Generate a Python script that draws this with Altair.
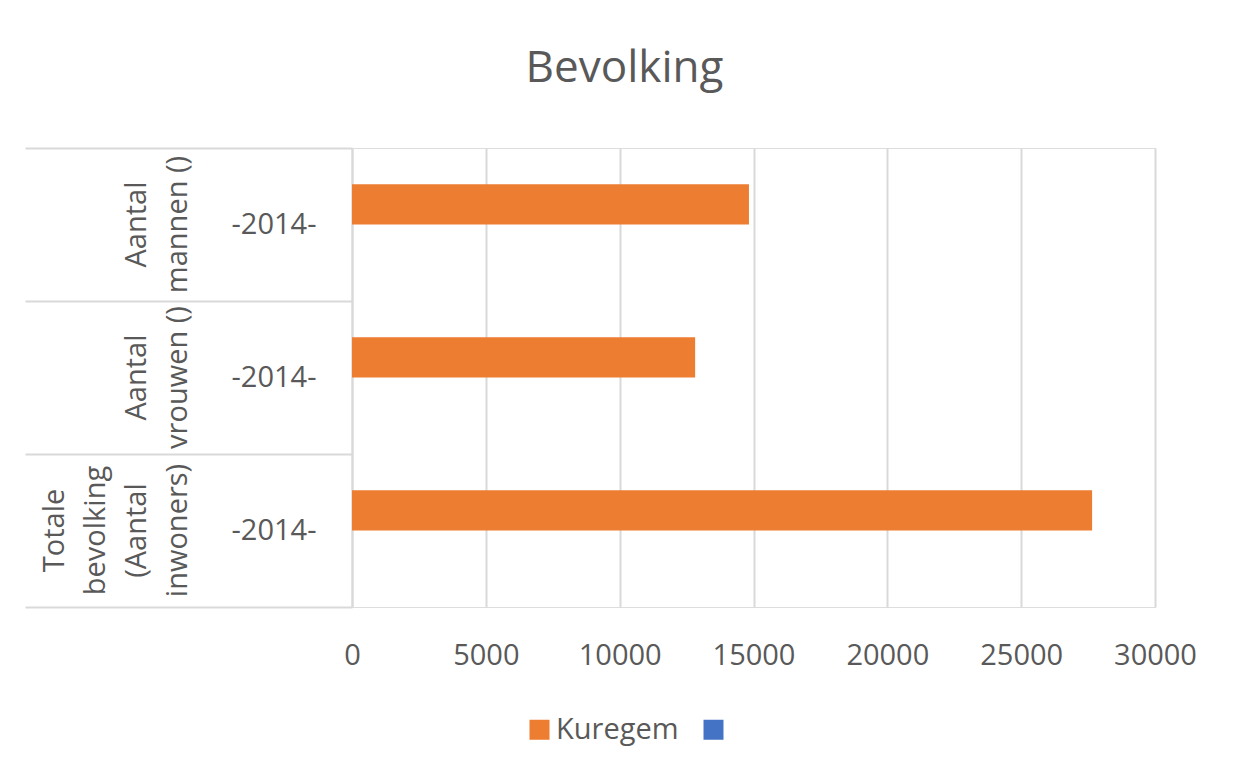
import altair as alt
import pandas as pd

# ---- data ----
categories = ["Aantal mannen ()", "Aantal vrouwen ()", "Totale bevolking (Aantal inwoners)"]
category_lines = [
    ["Aantal", "mannen  ()"],
    ["Aantal", "vrouwen ()"],
    ["Totale", "bevolking", "(Aantal", "inwoners)"],
]
years = ["-2014-", "-2014-", "-2014-"]
series = ["Kuregem", " "]
kuregem = [14830, 12820, 27650]
second_series = [None, None, None]
x_ticks = [0, 5000, 10000, 15000, 20000, 25000, 30000]

rows = []
for c, v in zip(categories, kuregem):
    rows.append({"cat": c, "series": series[0], "value": v})
for c, v in zip(categories, second_series):
    rows.append({"cat": c, "series": series[1], "value": v})
bars_df = pd.DataFrame(rows)

line_rows = []
for c, lines in zip(categories, category_lines):
    n = len(lines)
    for i, t in enumerate(lines):
        line_rows.append({"cat": c, "line": t, "pos": n - 1 - i})
lines_df = pd.DataFrame(line_rows)
years_df = pd.DataFrame({"cat": categories, "year": years})

# ---- style ----
FONT = "Open Sans"
TXT = "#595959"
GRID = "#d9d9d9"
ORANGE = "#ED7D31"
BLUE = "#4472C4"

y_enc = alt.Y(
    "cat:N",
    sort=categories,
    scale=alt.Scale(domain=categories, paddingInner=0, paddingOuter=0),
    axis=alt.Axis(
        labels=False, ticks=True, tickBand="extent", tickSize=327,
        tickColor=GRID, tickWidth=2, domain=True, domainColor=GRID,
        domainWidth=2, grid=False, title=None,
    ),
)

bars = alt.Chart(bars_df).mark_bar().encode(
    x=alt.X(
        "value:Q",
        scale=alt.Scale(domain=[0, 30000], nice=False),
        axis=alt.Axis(
            values=x_ticks, format="d", grid=True, gridColor=GRID, gridWidth=2,
            domain=False, ticks=False, tickSize=0, labelPadding=34, labelFlush=False,
            labelFont=FONT, labelFontSize=29, labelColor=TXT, title=None,
        ),
    ),
    y=y_enc,
    yOffset=alt.YOffset("series:N", scale=alt.Scale(domain=series, paddingInner=0, paddingOuter=0.9)),
    color=alt.Color(
        "series:N",
        scale=alt.Scale(domain=series, range=[ORANGE, BLUE]),
        legend=alt.Legend(
            title=None, orient="none", direction="horizontal", columns=2,
            legendX=173, legendY=567, padding=0,
            symbolType="square", symbolSize=400, symbolStrokeWidth=0,
            labelFont=FONT, labelFontSize=29, labelColor=TXT,
            labelOffset=2, columnPadding=20,
        ),
    ),
)

year_labels = alt.Chart(years_df).mark_text(
    align="center", baseline="middle", font=FONT, fontSize=29, color=TXT,
).encode(y=y_enc, x=alt.value(-78), text="year:N")

# rotated category labels: one row per line, stacked leftwards from the last line
group_labels = alt.Chart(lines_df).mark_text(
    angle=270, align="center", baseline="alphabetic",
    font=FONT, fontSize=29, color=TXT,
).encode(
    y=y_enc,
    x=alt.X("pos:Q", scale=alt.Scale(domain=[0, 3], range=[-165, -288]), axis=None),
    text="line:N",
)

chart = alt.layer(bars, year_labels, group_labels).resolve_scale(
    x="independent"
).properties(
    width=803,
    height=459,
    autosize=alt.AutoSizeParams(type="none"),
    padding={"left": 344, "top": 140, "right": 70, "bottom": 160},
    title=alt.TitleParams(
        "Bevolking", font=FONT, fontSize=44, fontWeight="normal", color=TXT,
        anchor="middle", frame="group", dx=-129, offset=21, baseline="alphabetic",
    ),
).configure_view(stroke=None).configure(background="white")

chart.save("out.html", embed_options={"renderer": "svg", "actions": False})
